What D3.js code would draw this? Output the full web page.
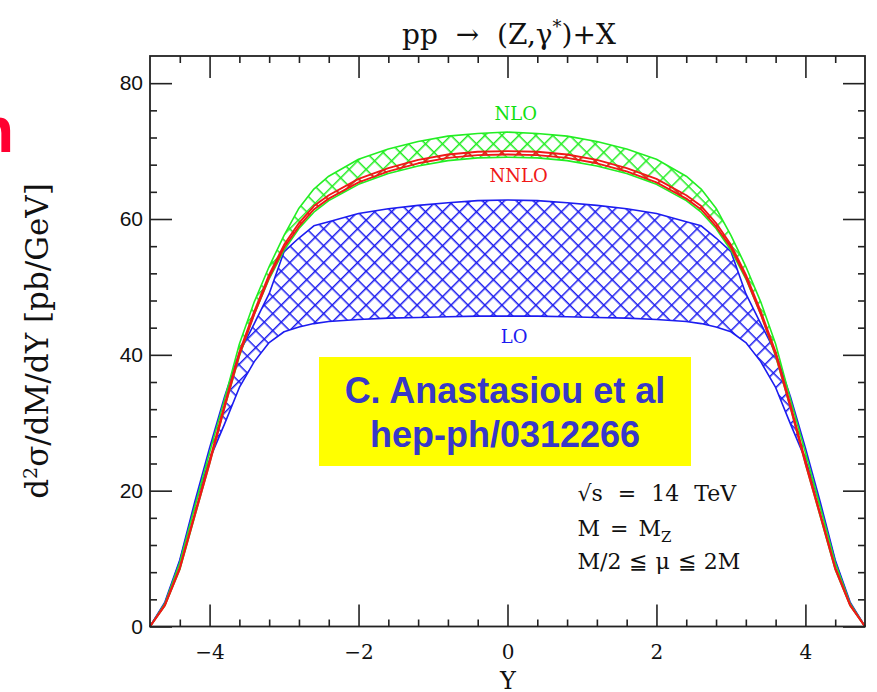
<!DOCTYPE html>
<html>
<head>
<meta charset="utf-8">
<script src="https://cdn.jsdelivr.net/npm/d3@7"></script>
<style>
  body { margin: 0; background: #fff; }
  svg text { white-space: pre; }
</style>
</head>
<body>
<svg id="chart"></svg>
<script>
// rapidity grid
var rapidity = [-4.8, -4.6, -4.4, -4.2, -4.0, -3.8, -3.6, -3.4, -3.2, -3.0, -2.8, -2.6, -2.4, -2.0, -1.6, -1.2, -0.8, -0.4,
  0, 0.4, 0.8, 1.2, 1.6, 2.0, 2.4, 2.6, 2.8, 3.0, 3.2, 3.4, 3.6, 3.8, 4.0, 4.2, 4.4, 4.6, 4.8];

// LO band (blue)
var loHigh = [0, 3.6, 9.8, 18.3, 26.3, 33.8, 40.3, 44.6, 49.0, 55.2, 57.2, 59.0, 59.6, 60.8, 61.5, 62.0, 62.4, 62.7,
  62.8, 62.7, 62.4, 62.0, 61.5, 60.8, 59.6, 59.0, 57.2, 55.2, 49.0, 44.6, 40.3, 33.8, 26.3, 18.3, 9.8, 3.6, 0];
var loLow = [0, 3.4, 9.6, 17.8, 24.6, 29.8, 35.2, 39.0, 41.8, 43.4, 44.1, 44.6, 44.9, 45.2, 45.4, 45.5, 45.6, 45.7,
  45.7, 45.7, 45.6, 45.5, 45.4, 45.2, 44.9, 44.6, 44.1, 43.4, 41.8, 39.0, 35.2, 29.8, 24.6, 17.8, 9.6, 3.4, 0];

// NLO band (green)
var nloHigh = [0, 3.4, 9.4, 17.6, 25.6, 33.4, 41.6, 47.8, 53.0, 57.6, 61.6, 64.4, 66.3, 68.8, 70.3, 71.4, 72.2, 72.6,
  72.8, 72.6, 72.2, 71.4, 70.3, 68.8, 66.3, 64.4, 61.6, 57.6, 53.0, 47.8, 41.6, 33.4, 25.6, 17.6, 9.4, 3.4, 0];
var nloLow = [0, 3.1, 8.4, 16.2, 24.0, 32.2, 39.8, 46.0, 51.2, 55.4, 58.6, 61.0, 62.7, 65.1, 66.7, 67.8, 68.6, 69.0,
  69.1, 69.0, 68.6, 67.8, 66.7, 65.1, 62.7, 61.0, 58.6, 55.4, 51.2, 46.0, 39.8, 32.2, 24.0, 16.2, 8.4, 3.1, 0];

// NNLO band (red)
var nnloHigh = [0, 3.2, 8.7, 16.6, 24.4, 32.6, 40.4, 46.4, 51.8, 56.2, 59.4, 61.9, 63.5, 65.9, 67.5, 68.7, 69.5, 69.9,
  70.0, 69.9, 69.5, 68.7, 67.5, 65.9, 63.5, 61.9, 59.4, 56.2, 51.8, 46.4, 40.4, 32.6, 24.4, 16.6, 8.7, 3.2, 0];
var nnloLow = [0, 3.1, 8.5, 16.3, 24.0, 32.2, 40.0, 46.0, 51.4, 55.8, 58.9, 61.4, 63.0, 65.4, 67.0, 68.2, 69.0, 69.4,
  69.5, 69.4, 69.0, 68.2, 67.0, 65.4, 63.0, 61.4, 58.9, 55.8, 51.4, 46.0, 40.0, 32.2, 24.0, 16.3, 8.5, 3.1, 0];

// ticks
var xMajor = [-4, -2, 0, 2, 4];
var xMinor = [-4.4, -3.6, -3.2, -2.8, -2.4, -1.6, -1.2, -0.8, -0.4, 0.4, 0.8, 1.2, 1.6, 2.4, 2.8, 3.2, 3.6, 4.4];
var yMajor = [0, 20, 40, 60, 80];
var yMinor = [4, 8, 12, 16, 24, 28, 32, 36, 44, 48, 52, 56, 64, 68, 72, 76];

var svgWidth = 877, svgHeight = 692;
var margin = {top: 56, right: 12, bottom: 65.5, left: 150};
var width = svgWidth - margin.left - margin.right;
var height = svgHeight - margin.top - margin.bottom;

var svg = d3.select('#chart')
  .attr("width", svgWidth)
  .attr("height", svgHeight);

var xScale = d3.scaleLinear().domain([-4.8, 4.8]).range([0, width]);
var yScale = d3.scaleLinear().domain([0, 84]).range([height, 0]);

// cross hatch patterns (square grid turned 45 degrees)
var defs = svg.append("defs");
function hatch(id, color) {
  var s = 12;
  var p = defs.append("pattern")
    .attr("id", id)
    .attr("patternUnits", "userSpaceOnUse")
    .attr("patternTransform", "translate(4,2) rotate(45)")
    .attr("width", s).attr("height", s);
  p.append("path")
    .attr("d", "M0,0H" + s + "M0,0V" + s)
    .attr("stroke", color)
    .attr("stroke-width", 3)
    .attr("fill", "none");
}
hatch("hatchBlue", "#1c1cf0");
hatch("hatchGreen", "#22ee22");
hatch("hatchRed", "#f01818");

var g = svg.append("g")
  .attr("transform", "translate(" + margin.left + "," + margin.top + ")");

var bands = [
  {lo: loLow, hi: loHigh, color: "#1c1cf0", pat: "hatchBlue", w: 1.6},
  {lo: nloLow, hi: nloHigh, color: "#22ee22", pat: "hatchGreen", w: 1.6},
  {lo: nnloLow, hi: nnloHigh, color: "#f01818", pat: "hatchRed", w: 1.9}
];

var area = d3.area()
  .x(function(d) { return xScale(d[0]); })
  .y0(function(d) { return yScale(d[1]); })
  .y1(function(d) { return yScale(d[2]); });
var line = d3.line()
  .x(function(d) { return xScale(d[0]); })
  .y(function(d) { return yScale(d[1]); });

bands.forEach(function(b) {
  var rows = rapidity.map(function(r, i) { return [r, b.lo[i], b.hi[i]]; });
  g.append("path")
    .attr("d", area(rows))
    .attr("fill", "url(#" + b.pat + ")");
  [b.lo, b.hi].forEach(function(s) {
    g.append("path")
      .attr("d", line(rapidity.map(function(r, i) { return [r, s[i]]; })))
      .attr("fill", "none")
      .attr("stroke", b.color)
      .attr("stroke-width", b.w)
      .attr("stroke-linejoin", "round");
  });
});

// axes: ticks inside on every side
function styleAxis(sel) {
  sel.select(".domain").remove();
  sel.selectAll(".tick line").attr("stroke", "#222").attr("stroke-width", 1.6);
}
g.append("g").attr("transform", "translate(0," + height + ")")
  .call(d3.axisBottom(xScale).tickValues(xMajor).tickSizeInner(-22).tickPadding(18))
  .call(styleAxis)
  .selectAll("text")
  .attr("font-family", "'DejaVu Serif', serif").attr("font-size", 20).attr("fill", "#111");
g.append("g").attr("transform", "translate(0," + height + ")")
  .call(d3.axisBottom(xScale).tickValues(xMinor).tickSizeInner(-7).tickFormat(""))
  .call(styleAxis);
g.append("g")
  .call(d3.axisTop(xScale).tickValues(xMajor).tickSizeInner(-22).tickFormat(""))
  .call(styleAxis);
g.append("g")
  .call(d3.axisTop(xScale).tickValues(xMinor).tickSizeInner(-7).tickFormat(""))
  .call(styleAxis);
g.append("g")
  .call(d3.axisLeft(yScale).tickValues(yMajor).tickSizeInner(-22).tickPadding(7))
  .call(styleAxis)
  .selectAll("text")
  .attr("font-family", "'Liberation Sans', Arial, sans-serif").attr("font-size", 21).attr("fill", "#111");
g.append("g")
  .call(d3.axisLeft(yScale).tickValues(yMinor).tickSizeInner(-7).tickFormat(""))
  .call(styleAxis);
g.append("g").attr("transform", "translate(" + width + ",0)")
  .call(d3.axisRight(yScale).tickValues(yMajor).tickSizeInner(-22).tickFormat(""))
  .call(styleAxis);
g.append("g").attr("transform", "translate(" + width + ",0)")
  .call(d3.axisRight(yScale).tickValues(yMinor).tickSizeInner(-7).tickFormat(""))
  .call(styleAxis);

g.append("rect")
  .attr("width", width).attr("height", height)
  .attr("fill", "none").attr("stroke", "#222").attr("stroke-width", 1.8);

// band labels
var serif = "'DejaVu Serif', serif";
g.append("text").attr("x", xScale(0.11)).attr("y", yScale(74.6)).attr("text-anchor", "middle")
  .attr("font-family", serif).attr("font-size", 18).attr("fill", "#10e010").text("NLO");
g.append("text").attr("x", xScale(0.15)).attr("y", yScale(65.4)).attr("text-anchor", "middle")
  .attr("font-family", serif).attr("font-size", 18).attr("fill", "#f01818").text("NNLO");
g.append("text").attr("x", xScale(0.09)).attr("y", yScale(41.7)).attr("text-anchor", "middle")
  .attr("font-family", serif).attr("font-size", 18).attr("fill", "#1c1cf0").text("LO");

// parameters
var params = g.append("text").attr("font-family", serif).attr("font-size", 22).attr("fill", "#111");
params.append("tspan").attr("x", xScale(0.94)).attr("y", yScale(18.5)).attr("word-spacing", 8).text("√s = 14 TeV");
params.append("tspan").attr("x", xScale(0.94)).attr("y", yScale(13.3)).attr("word-spacing", 3).text("M = M");
params.append("tspan").attr("dy", 6).attr("font-size", 15).text("Z");
params.append("tspan").attr("x", xScale(0.94)).attr("y", yScale(8.4)).attr("word-spacing", 1).text("M/2 ≦ μ ≦ 2M");

// title and axis titles
svg.append("text").attr("x", 509).attr("y", 44).attr("text-anchor", "middle")
  .attr("font-family", serif).attr("font-size", 28).attr("fill", "#111")
  .html('pp  →  (Z,γ<tspan dy="-11" font-size="18">*</tspan><tspan dy="11">)+X</tspan>');
svg.append("text").attr("x", 508).attr("y", 689).attr("text-anchor", "middle")
  .attr("font-family", serif).attr("font-size", 24).attr("fill", "#111").text("Y");
svg.append("text").attr("transform", "translate(48,341) rotate(-90)").attr("text-anchor", "middle")
  .attr("font-family", serif).attr("font-size", 31).attr("fill", "#111")
  .html('d<tspan dy="-11" font-size="19">2</tspan><tspan dy="11">σ/dM/dY [pb/GeV]</tspan>');

// citation box
svg.append("rect").attr("x", 319).attr("y", 357).attr("width", 372).attr("height", 109).attr("fill", "#ffff00");
var cite = svg.append("text").attr("text-anchor", "middle")
  .attr("font-family", "'Liberation Sans', Arial, sans-serif").attr("font-weight", "bold")
  .attr("font-size", 36).attr("fill", "#3838c8");
cite.append("tspan").attr("x", 505).attr("y", 403).text("C. Anastasiou et al");
cite.append("tspan").attr("x", 505).attr("y", 447).text("hep-ph/0312266");

// cut-off slide heading
svg.append("text").attr("x", 14).attr("y", 152).attr("text-anchor", "end")
  .attr("font-family", "'Liberation Sans', Arial, sans-serif").attr("font-weight", "bold")
  .attr("font-size", 64).attr("fill", "#ff0030").text("n");
</script>
</body>
</html>
